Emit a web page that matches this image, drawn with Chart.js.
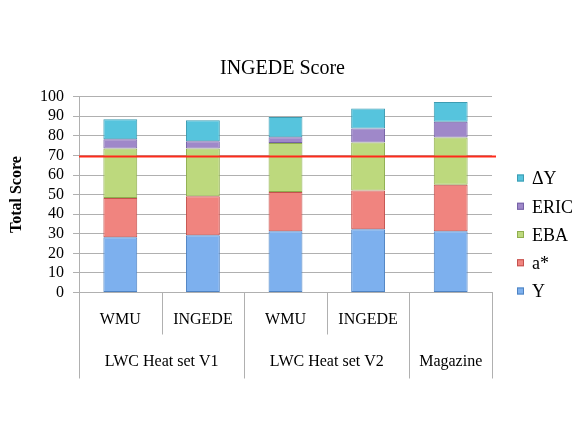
<!DOCTYPE html>
<html>
<head>
<meta charset="utf-8">
<script src="https://cdn.jsdelivr.net/npm/chart.js@4"></script>
<style>
html,body{margin:0;padding:0;background:#fff;}
#wrap{width:575px;height:431px;position:relative;}
</style>
</head>
<body>
<div id="wrap"><canvas id="c" width="575" height="431"></canvas></div>
<script>
const categories = ["WMU", "INGEDE", "WMU", "INGEDE", ""];
const groupLabels = ["LWC Heat set V1", "LWC Heat set V2", "Magazine"];
const groupSpans = [2, 2, 1];
const seriesNames = ["Y", "a*", "EBA", "ERIC", "\u0394Y"];
const valuesY    = [28.2, 29.2, 31.3, 32.3, 31.3];
const valuesA    = [20.0, 20.0, 20.0, 19.8, 23.7];
const valuesEBA  = [25.3, 24.3, 25.1, 24.5, 24.1];
const valuesERIC = [4.8, 3.8, 2.9, 7.2, 8.1];
const valuesDY   = [10.2, 10.7, 10.3, 10.2, 10.1];
const threshold = 69.5;
const yTicks = [0, 10, 20, 30, 40, 50, 60, 70, 80, 90, 100];

const fills   = ['#7db0ee', '#f0847f', '#bdd97d', '#9f88c9', '#56c4dd'];
const borders = ['#4f83c2', '#c4524e', '#8fae4e', '#7562a6', '#3d9cb2'];
const seriesValues = [valuesY, valuesA, valuesEBA, valuesERIC, valuesDY];
const SERIF = '"Liberation Serif", "Times New Roman", serif';

const decor = {
  id: 'decor',
  afterDatasetsDraw(chart) {
    const ctx = chart.ctx, ca = chart.chartArea;
    const y = chart.scales.y;
    const ty = y.getPixelForValue(threshold);
    ctx.save();
    ctx.strokeStyle = '#ff2a1a';
    ctx.lineWidth = 2;
    ctx.beginPath();
    ctx.moveTo(ca.left, ty);
    ctx.lineTo(ca.right + 4, ty);
    ctx.stroke();
    ctx.restore();
  },
  afterDraw(chart) {
    const ctx = chart.ctx, ca = chart.chartArea;
    const x = chart.scales.x;
    const n = categories.length;
    const bound = i => {
      if (i <= 0) return ca.left;
      if (i >= n) return ca.right;
      return (x.getPixelForValue(i - 1) + x.getPixelForValue(i)) / 2;
    };
    const axisY = ca.bottom;
    const row1Bottom = axisY + 42;
    const row2Bottom = axisY + 86;
    ctx.save();
    ctx.strokeStyle = '#b0b0b0';
    ctx.lineWidth = 1;
    const groupEdges = [0];
    let acc = 0;
    groupSpans.forEach(s => { acc += s; groupEdges.push(acc); });
    for (let i = 0; i <= n; i++) {
      const px = Math.round(bound(i)) + 0.5;
      const long = groupEdges.includes(i);
      ctx.beginPath();
      ctx.moveTo(px, axisY);
      ctx.lineTo(px, long ? row2Bottom : row1Bottom);
      ctx.stroke();
    }
    ctx.fillStyle = '#000';
    ctx.font = '16px ' + SERIF;
    ctx.textAlign = 'center';
    ctx.textBaseline = 'middle';
    for (let g = 0; g < groupLabels.length; g++) {
      const cx = (bound(groupEdges[g]) + bound(groupEdges[g + 1])) / 2;
      ctx.fillText(groupLabels[g], cx, axisY + 69);
    }
    // legend (reverse order)
    ctx.font = '18px ' + SERIF;
    ctx.textAlign = 'left';
    ctx.textBaseline = 'alphabetic';
    const ds = chart.data.datasets;
    for (let k = 0; k < ds.length; k++) {
      const idx = ds.length - 1 - k;
      const cy = 178 + 28.25 * k;
      ctx.fillStyle = ds[idx].backgroundColor;
      ctx.fillRect(517, cy - 3.5, 7, 7);
      ctx.strokeStyle = ds[idx].borderColor;
      ctx.strokeRect(517.5, cy - 3, 6, 6);
      ctx.fillStyle = '#000';
      ctx.fillText(ds[idx].label, 532, cy + 6.3);
    }
    ctx.restore();
  }
};

new Chart(document.getElementById('c'), {
  type: 'bar',
  data: {
    labels: categories,
    datasets: seriesNames.map((name, i) => ({
      label: name,
      data: seriesValues[i],
      backgroundColor: fills[i],
      borderColor: borders[i],
      borderWidth: 1,
      borderSkipped: false,
      categoryPercentage: 1,
      barPercentage: 0.41
    }))
  },
  options: {
    responsive: false,
    animation: false,
    devicePixelRatio: 1,
    layout: { padding: { left: 0, right: 10, top: 0, bottom: 0 } },
    plugins: {
      legend: { display: false },
      tooltip: { enabled: false },
      title: {
        display: true,
        text: 'INGEDE Score',
        color: '#000',
        font: { family: SERIF, size: 20, weight: 'normal' },
        padding: { top: 57, bottom: 15.7 }
      }
    },
    scales: {
      x: {
        stacked: true,
        grid: { display: false, drawOnChartArea: false },
        border: { display: true, color: '#b0b0b0' },
        ticks: { color: '#000', font: { family: SERIF, size: 16 }, padding: 10, maxRotation: 0, autoSkip: false },
        afterFit(s) { s.height = 138.5; }
      },
      y: {
        stacked: true,
        min: 0,
        max: 100,
        afterBuildTicks(s) { s.ticks = yTicks.map(v => ({ value: v })); },
        grid: { color: '#b0b0b0', tickLength: 6, drawTicks: true },
        border: { display: true, color: '#b0b0b0' },
        ticks: { color: '#000', font: { family: SERIF, size: 16 }, padding: 9, autoSkip: false },
        title: {
          display: true,
          text: 'Total Score',
          color: '#000',
          font: { family: SERIF, size: 16, weight: 'bold' },
          padding: { top: 7, bottom: 0 }
        },
        afterFit(s) { s.width = 79; }
      },
      yRight: {
        type: 'linear',
        position: 'right',
        display: true,
        grid: { display: false },
        border: { display: false },
        ticks: { display: false },
        afterFit(s) { s.width = 73; }
      }
    }
  },
  plugins: [decor]
});
</script>
</body>
</html>
